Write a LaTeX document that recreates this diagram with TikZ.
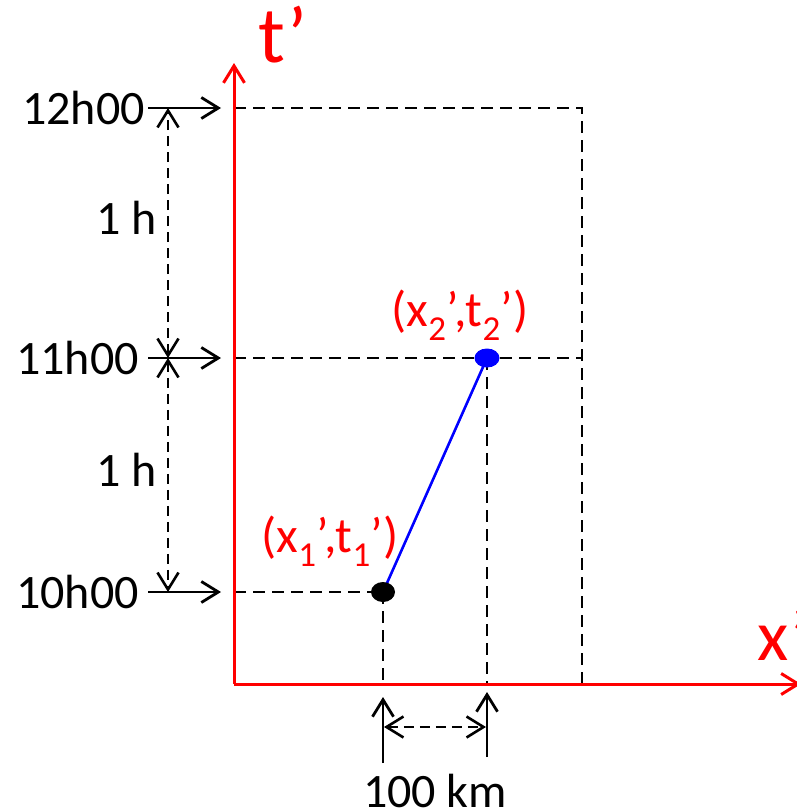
\documentclass[tikz,border=0pt]{standalone}
\usepackage{fontspec}
\setmainfont{Carlito}
\usetikzlibrary{arrows.meta,shapes.geometric}
\begin{document}
\begin{tikzpicture}[x=1pt,y=-1pt,
  arr/.style={-{Straight Barb[length=17pt,width=21pt,line width=2.8pt]},line width=2.8pt,black},
  dimarr/.style={{Straight Barb[length=17pt,width=21pt,line width=2.6pt]}-{Straight Barb[length=17pt,width=21pt,line width=2.6pt]},line width=2.5pt,dash pattern=on 10pt off 6pt,black},
  guide/.style={line width=2.4pt,dash pattern=on 12pt off 7pt,black},
  axis/.style={-{Straight Barb[length=17pt,width=21pt,line width=3pt]},line width=3pt,red},
  lab/.style={font=\fontsize{48}{58}\selectfont,inner sep=0pt},
  rlab/.style={font=\fontsize{50}{60}\selectfont,inner sep=0pt,text=red},
  big/.style={font=\fontsize{80}{90}\selectfont,inner sep=0pt,text=red},
  bigx/.style={font=\fontsize{72}{82}\selectfont,inner sep=0pt,text=red}]
\useasboundingbox (0,0) rectangle (797,811);
% coordinates
\coordinate (O) at (234,684);
\coordinate (Ttop) at (234,63);
\coordinate (Xend) at (801,684);
\coordinate (G12) at (234,108);
\coordinate (G11) at (234,358);
\coordinate (G10) at (234,592);
\coordinate (R12) at (582,108);
\coordinate (R11) at (582,358);
\coordinate (Rb) at (582,684);
\coordinate (Xb1) at (383,684);
\coordinate (Xb2) at (487,684);
\coordinate (A12) at (221,108);
\coordinate (A11) at (221,358);
\coordinate (A10) at (221,592);
\coordinate (D12) at (168,108);
\coordinate (D11) at (168,358);
\coordinate (D10) at (168,592);
\coordinate (U1a) at (383,763);
\coordinate (U1b) at (383,697);
\coordinate (U2a) at (487,757);
\coordinate (U2b) at (487,692);
\coordinate (H1) at (384,727);
\coordinate (H2) at (486,727);
% guides
\draw[guide] (G12) -- (R12) -- (Rb);
\draw[guide] (G11) -- (R11);
\draw[guide] (G10) -- (383,592);
\draw[guide] (383,592) -- (Xb1);
\draw[guide] (487,358) -- (Xb2);
% axes
\draw[axis] (O) -- (Ttop);
\draw[axis] (O) -- (Xend);
\node[big,anchor=base west] (tl) at (258,62) {t’};
\node[bigx,anchor=base west] (xl) at (757,660) {x’};
% world line and events
\coordinate (E1) at (383,592);
\coordinate (E2) at (487,358);
\draw[blue,line width=2.6pt] (E1) -- (E2);
\node[ellipse,fill=black,minimum width=24pt,minimum height=20pt,inner sep=0pt] (P1) at (E1) {};
\node[ellipse,fill=blue,minimum width=25pt,minimum height=19pt,inner sep=0pt] (P2) at (E2) {};
\node[rlab] (l1) at (330,541) {(x\textsubscript{1}’,t\textsubscript{1}’)};
\node[rlab] (l2) at (460,315) {(x\textsubscript{2}’,t\textsubscript{2}’)};
% time labels
\node[lab,anchor=east] (L12) at (145,108) {12h00};
\node[lab,anchor=east] (L11) at (139,358) {11h00};
\node[lab,anchor=east] (L10) at (139,592) {10h00};
\draw[arr] (148,108) -- (A12);
\draw[arr] (148,358) -- (A11);
\draw[arr] (148,592) -- (A10);
\draw[dimarr] (D11) -- (D12);
\draw[dimarr] (D11) -- (D10);
\node[lab,anchor=east] (h1) at (157,218) {1 h};
\node[lab,anchor=east] (h2) at (157,470) {1 h};
% distance
\draw[arr] (U1a) -- (U1b);
\draw[arr] (U2a) -- (U2b);
\draw[dimarr] (H1) -- (H2);
\node[lab] (km) at (435,791) {100 km};
\end{tikzpicture}
\end{document}
